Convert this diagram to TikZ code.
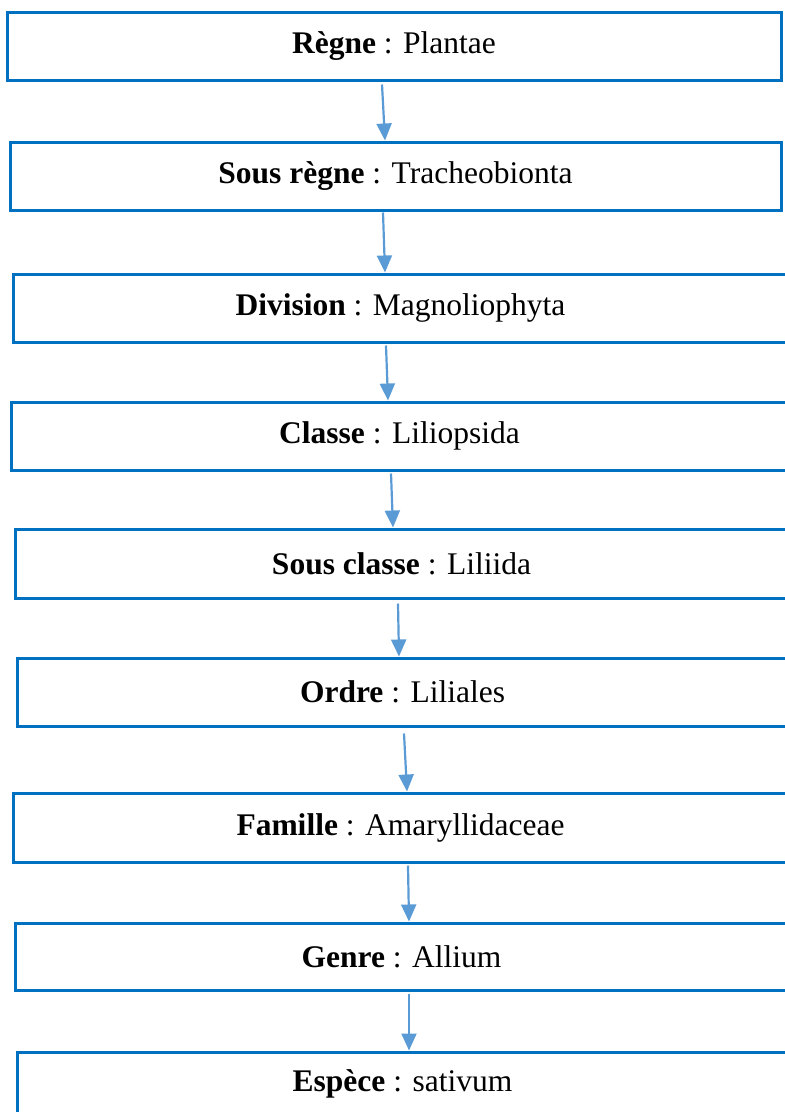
\documentclass[tikz,border=0pt]{standalone}
\usepackage{fontspec}
\setmainfont{Liberation Serif}
\usetikzlibrary{arrows.meta}
\definecolor{boxblue}{HTML}{0070C0}
\definecolor{arrblue}{HTML}{5B9BD5}
\tikzset{
  taxbox/.style={draw=boxblue, line width=3pt, rectangle, inner sep=0pt, align=center,
    font=\fontsize{31.5}{36}\selectfont},
  arr/.style={draw=arrblue, line width=2.2pt, -{Triangle[length=17pt,width=15pt]}}
}
\begin{document}
\begin{tikzpicture}[x=1pt,y=-1pt]
\useasboundingbox (0,0) rectangle (785,1112);
\clip (0,0) rectangle (785,1112);
\node[taxbox, minimum width=774pt, minimum height=68pt] (n1) at (394,46) {\textbf{Règne} : Plantae};
\node[taxbox, minimum width=771pt, minimum height=68pt] (n2) at (395.5,176) {\textbf{Sous règne} : Tracheobionta};
\node[taxbox, minimum width=775pt, minimum height=68pt] (n3) at (400.5,308) {\textbf{Division} : Magnoliophyta};
\node[taxbox, minimum width=777pt, minimum height=68pt] (n4) at (399.5,436) {\textbf{Classe} : Liliopsida};
\node[taxbox, minimum width=773pt, minimum height=69pt] (n5) at (401.5,563.5) {\textbf{Sous classe} : Liliida};
\node[taxbox, minimum width=771pt, minimum height=68pt] (n6) at (402.5,692) {\textbf{Ordre} : Liliales};
\node[taxbox, minimum width=775pt, minimum height=69pt] (n7) at (400.5,827.5) {\textbf{Famille} : Amaryllidaceae};
\node[taxbox, minimum width=773pt, minimum height=67pt] (n8) at (401.5,956.5) {\textbf{Genre} : Allium};
\node[taxbox, minimum width=771pt, minimum height=64pt] (n9) at (402.5,1084) {\textbf{Espèce} : sativum};
\draw[arr] ([xshift=-12pt,yshift=-3pt]n1.south) -- ([xshift=-10.5pt]n2.north);
\draw[arr] ([xshift=-12.5pt,yshift=-1pt]n2.south) -- ([xshift=-15.5pt]n3.north);
\draw[arr] ([xshift=-14.5pt,yshift=-2pt]n3.south) -- ([xshift=-11.5pt]n4.north);
\draw[arr] ([xshift=-8.5pt,yshift=-2pt]n4.south) -- ([xshift=-8.5pt]n5.north);
\draw[arr] ([xshift=-3.5pt,yshift=-4pt]n5.south) -- ([xshift=-3.5pt]n6.north);
\draw[arr] ([xshift=1.5pt,yshift=-6pt]n6.south) -- ([xshift=6.5pt]n7.north);
\draw[arr] ([xshift=7.5pt,yshift=-2pt]n7.south) -- ([xshift=7.5pt]n8.north);
\draw[arr] ([xshift=7.5pt,yshift=-2pt]n8.south) -- ([xshift=6.5pt]n9.north);
\end{tikzpicture}
\end{document}
